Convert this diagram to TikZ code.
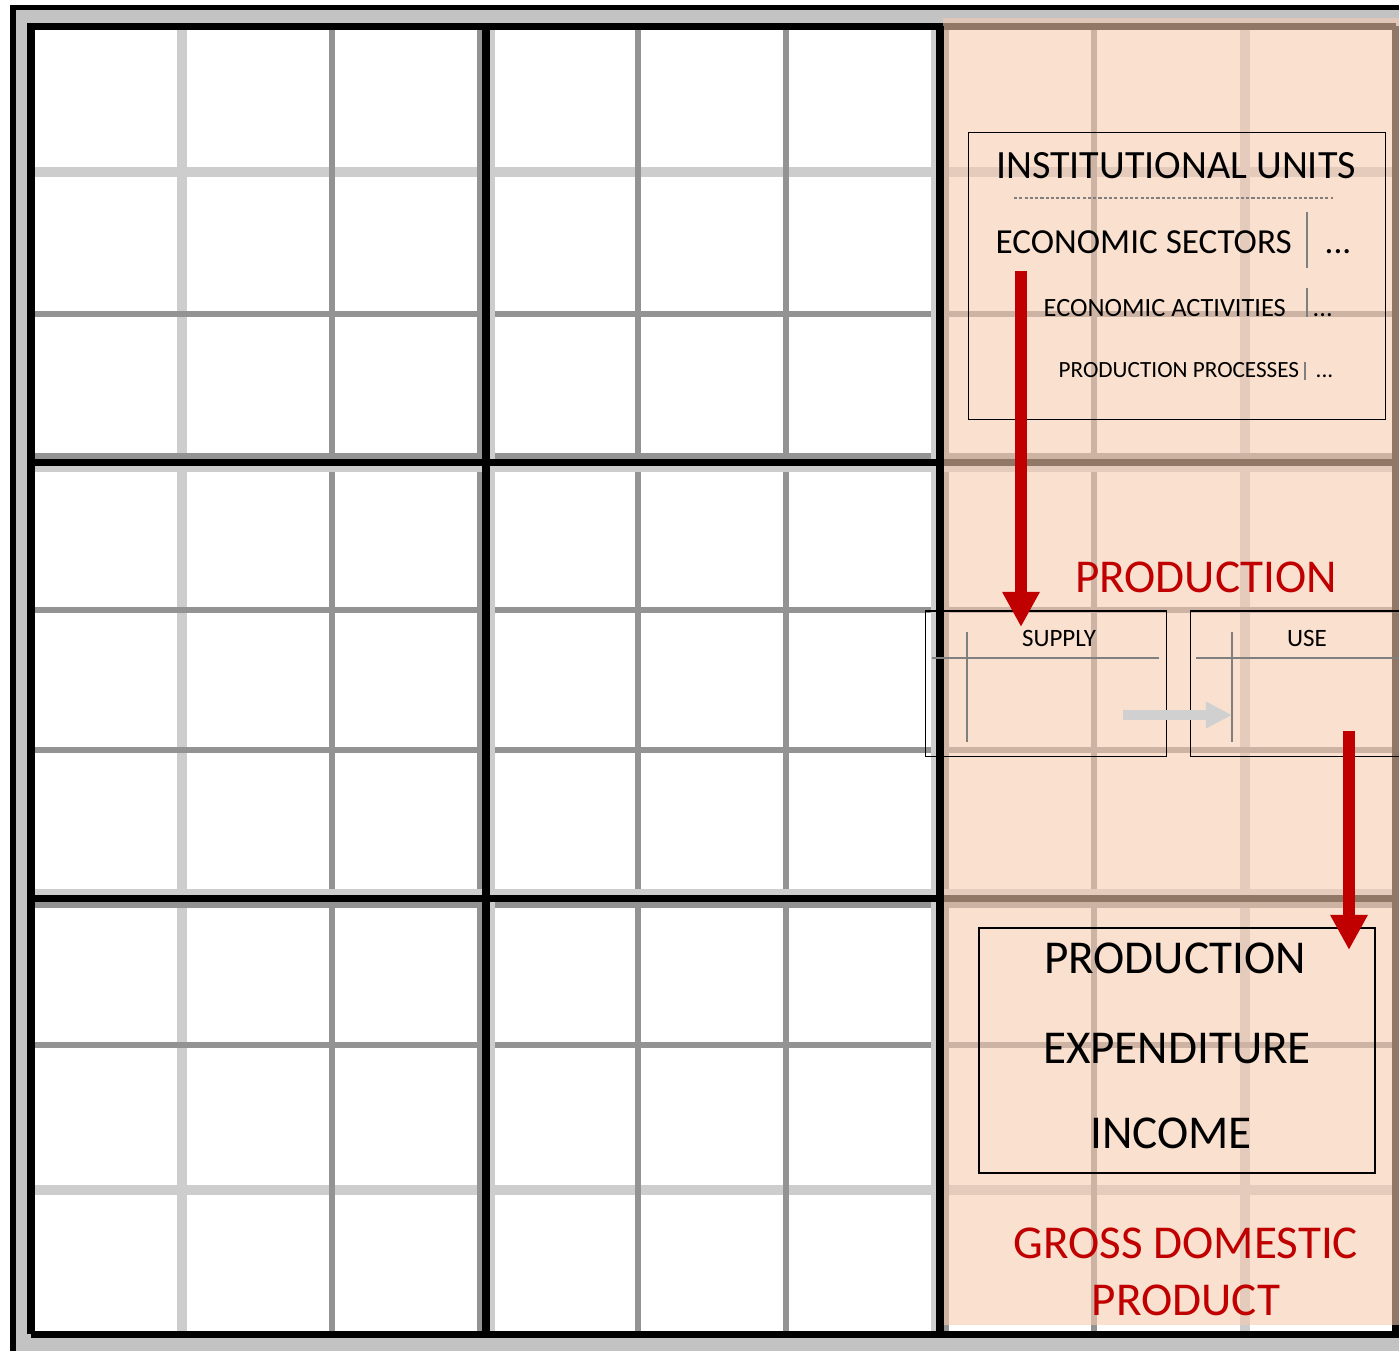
\documentclass[tikz,border=0pt]{standalone}
\usepackage{fontspec}
\setmainfont{Carlito}
\usepackage{tikz}
\usetikzlibrary{arrows.meta}
\definecolor{framegrey}{HTML}{C3C3C3}
\definecolor{lightline}{HTML}{CDCDCD}
\definecolor{darkline}{HTML}{939393}
\definecolor{peach}{HTML}{F6CBAF}
\definecolor{gdpred}{HTML}{C00000}
\definecolor{flowgrey}{HTML}{D0D0D0}
\definecolor{tableline}{HTML}{7F7F7F}

\begin{document}
\begin{tikzpicture}[x=0.01cm, y=-0.01cm,
    light/.style={lightline, line width=3.1pt},
    dark/.style={darkline, line width=1.7pt},
    heavy/.style={black, line width=2pt},
    box/.style={draw, line width=0.4pt, inner sep=0pt},
    label/.style={inner sep=0pt, anchor=base},
    sep/.style={tableline, line width=0.3pt},
    redarrow/.style={gdpred, line width=3.3pt, -{Triangle[length=10pt, width=10pt]}},
    greyarrow/.style={flowgrey, line width=2.85pt, -{Triangle[length=7.4pt, width=7.1pt]}}]

  \useasboundingbox (0,0) rectangle (1399,1350);
  \clip (0,0) rectangle (1399,1350);

  % frame
  \fill[framegrey] (13,7.5) rectangle (1420,1370);
  \draw[black, line width=1.6pt] (13,1370) -- (13,7.5) -- (1420,7.5);
  \fill[white] (31,26) rectangle (1396,1334);

  % grid
  \foreach \x in {182,1245}
    \draw[light] (\x,26) -- (\x,1334);
  \foreach \y in {172,1190}
    \draw[light] (31,\y) -- (1396,\y);
  \foreach \x in {332,480,638,786,946,1094}
    \draw[dark] (\x,26) -- (\x,1334);
  \foreach \y in {314,456,610,750,905,1045}
    \draw[dark] (31,\y) -- (1396,\y);
  \foreach \x in {492,934}
    \draw[lightline, line width=1.7pt] (\x,26) -- (\x,1334);
  \foreach \y in {469,892}
    \draw[lightline, line width=1.7pt] (31,\y) -- (1396,\y);
  \foreach \x in {486,1396}
    \draw[heavy] (\x,26) -- (\x,1334);
  \foreach \y in {462,898}
    \draw[heavy] (31,\y) -- (1396,\y);
  \draw[heavy] (31,1334) -- (31,26.5) -- (1396,26.5);

  % GDP column
  \fill[peach, opacity=0.59] (943,18) rectangle (1420,1325);
  \draw[heavy] (940,26) -- (940,1334);
  \draw[heavy] (31,1334) -- (1420,1334);

  % units
  \node[box, minimum width=4.17cm, minimum height=2.87cm] (units) at (1177,276) {};
  \node[label, font=\fontsize{11.4pt}{13pt}\selectfont] (unitstitle) at (1176,178) {INSTITUTIONAL UNITS};
  \draw[tableline, line width=0.3pt, dash pattern=on 0.9pt off 0.6pt] (1014,198) -- (1333,198);
  \node[label, anchor=base west, font=\fontsize{10pt}{12pt}\selectfont] (sectors) at (995,253) {ECONOMIC SECTORS};
  \node[label, anchor=base west, font=\fontsize{10pt}{12pt}\selectfont] (sectorsmore) at (1324,253) {...};
  \node[label, anchor=base west, font=\fontsize{7.5pt}{9pt}\selectfont] (activities) at (1043,316) {ECONOMIC ACTIVITIES};
  \node[label, anchor=base west, font=\fontsize{7.5pt}{9pt}\selectfont] (activitiesmore) at (1312,316) {...};
  \node[label, anchor=base west, font=\fontsize{6.6pt}{8pt}\selectfont] (processes) at (1058,377) {PRODUCTION PROCESSES};
  \node[label, anchor=base west, font=\fontsize{6.6pt}{8pt}\selectfont] (processesmore) at (1315,377) {...};
  \draw[sep] (1307,212) -- (1307,268);
  \draw[sep] (1307,288) -- (1307,317);
  \draw[sep] (1305,362) -- (1305,380);

  % production
  \node[label, text=gdpred, font=\fontsize{13.4pt}{15pt}\selectfont] (production) at (1206,592) {PRODUCTION};
  \node[box, line width=0.3pt, minimum width=2.4cm, minimum height=1.45cm] (supply) at (1046,683.5) {};
  \node[box, line width=0.3pt, minimum width=2.4cm, minimum height=1.45cm] (use) at (1311,683.5) {};
  \node[label, font=\fontsize{7.1pt}{8pt}\selectfont] (supplytext) at (1059,646) {SUPPLY};
  \node[label, font=\fontsize{7.1pt}{8pt}\selectfont] (usetext) at (1307,646) {USE};
  \draw[sep] (932,658) -- (1159,658);
  \draw[sep] (967,632) -- (967,742);
  \draw[sep] (1196,658) -- (1420,658);
  \draw[sep] (1232,632) -- (1232,742);

  % gdp
  \node[box, line width=0.6pt, minimum width=3.96cm, minimum height=2.45cm] (approaches) at (1177,1050.5) {};
  \node[label, font=\fontsize{13.4pt}{15pt}\selectfont] (byproduction) at (1175,973) {PRODUCTION};
  \node[label, font=\fontsize{13.4pt}{15pt}\selectfont] (byexpenditure) at (1177,1063) {EXPENDITURE};
  \node[label, font=\fontsize{13.4pt}{15pt}\selectfont] (byincome) at (1171,1148) {INCOME};
  \node[label, text=gdpred, font=\fontsize{13.4pt}{15pt}\selectfont] (gdp) at (1186,1258) {GROSS DOMESTIC};
  \node[label, text=gdpred, font=\fontsize{13.4pt}{15pt}\selectfont] (gdp2) at (1186,1315) {PRODUCT};

  % arrows
  \coordinate (unitsout) at (1021,271);
  \coordinate (supplyin) at (1021,627);
  \coordinate (supplyout) at (1123,715);
  \coordinate (usein) at (1232,715);
  \coordinate (useout) at (1349,731);
  \coordinate (approachesin) at (1349,950);
  \draw[redarrow] (unitsout) -- (supplyin);
  \draw[greyarrow] (supplyout) -- (usein);
  \draw[redarrow] (useout) -- (approachesin);
\end{tikzpicture}
\end{document}
